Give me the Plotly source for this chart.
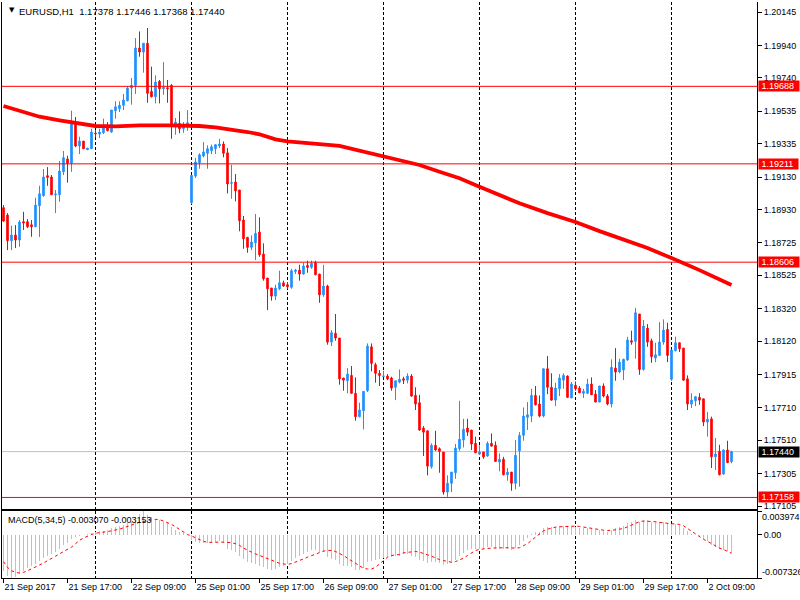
import plotly.graph_objects as go

# ---------------- data (EURUSD H1, bar 0 = 21 Sep 2017 01:00) ----------------
opens = [
 1.18941,1.18896,1.18738,1.18773,1.18742,1.18855,1.18855,1.18836,1.18824,1.18953,
 1.19015,1.19138,1.19130,1.19021,1.19021,1.19162,1.19241,1.19214,1.19466,1.19321,
 1.19351,1.19298,1.19304,1.19401,1.19394,1.19402,1.19444,1.19407,1.19538,1.19550,
 1.19571,1.19599,1.19677,1.19694,1.19924,1.19899,1.19953,1.19657,1.19624,1.19719,
 1.19673,1.19679,1.19694,1.19448,1.19460,1.19427,1.19439,1.18972,1.19136,1.19218,
 1.19259,1.19276,1.19292,1.19304,1.19321,1.19333,1.19279,1.19091,1.19099,1.19050,
 1.18865,1.18759,1.18697,1.18725,1.18791,1.18656,1.18508,1.18447,1.18397,1.18442,
 1.18479,1.18467,1.18451,1.18549,1.18557,1.18533,1.18586,1.18574,1.18602,1.18533,
 1.18405,1.18459,1.18114,1.18168,1.18139,1.17893,1.17876,1.17909,1.17799,1.17655,
 1.17692,1.17815,1.18085,1.17975,1.17922,1.17903,1.17905,1.17893,1.17836,1.17868,
 1.17888,1.17880,1.17905,1.17786,1.17741,1.17585,1.17568,1.17347,1.17479,1.17458,
 1.17437,1.17191,1.17245,1.17310,1.17458,1.17511,1.17585,1.17573,1.17491,1.17425,
 1.17437,1.17413,1.17491,1.17479,1.17376,1.17393,1.17298,1.17314,1.17245,1.17445,
 1.17540,1.17651,1.17659,1.17786,1.17733,1.17659,1.17950,1.17836,1.17757,1.17827,
 1.17880,1.17905,1.17770,1.17848,1.17831,1.17799,1.17799,1.17856,1.17794,1.17745,
 1.17844,1.17782,1.17733,1.17954,1.17930,1.17942,1.18004,1.18122,1.18119,1.18287,
 1.17946,1.18200,1.18122,1.18016,1.18032,1.18114,1.18192,1.17885,1.18061,1.18110,
 1.18077,1.17888,1.17733,1.17753,1.17774,1.17765,1.17622,1.17642,1.17408,1.17442,
 1.17302,1.17450,1.17378]
highs = [
 1.18957,1.18908,1.18830,1.18834,1.18865,1.18916,1.18871,1.18865,1.19002,1.19076,
 1.19179,1.19191,1.19142,1.19050,1.19228,1.19290,1.19261,1.19538,1.19499,1.19378,
 1.19351,1.19308,1.19427,1.19419,1.19427,1.19489,1.19468,1.19542,1.19596,1.19596,
 1.19641,1.19690,1.19739,1.19985,1.20026,1.19953,1.20047,1.19809,1.19756,1.19727,
 1.19837,1.19727,1.19702,1.19493,1.19534,1.19468,1.19542,1.19140,1.19247,1.19276,
 1.19345,1.19325,1.19329,1.19329,1.19365,1.19349,1.19308,1.19205,1.19148,1.19050,
 1.18890,1.18759,1.18771,1.18902,1.18882,1.18722,1.18508,1.18447,1.18467,1.18553,
 1.18492,1.18484,1.18565,1.18565,1.18590,1.18602,1.18615,1.18615,1.18615,1.18533,
 1.18590,1.18467,1.18188,1.18287,1.18139,1.17893,1.17954,1.17967,1.17897,1.17741,
 1.17811,1.18106,1.18106,1.17987,1.17942,1.17938,1.17917,1.17901,1.17876,1.17946,
 1.17901,1.17922,1.17917,1.17836,1.17790,1.17597,1.17568,1.17491,1.17568,1.17466,
 1.17437,1.17294,1.17314,1.17487,1.17753,1.17642,1.17642,1.17573,1.17532,1.17479,
 1.17437,1.17503,1.17552,1.17503,1.17429,1.17408,1.17339,1.17314,1.17511,1.17560,
 1.17712,1.17745,1.17827,1.17844,1.17786,1.17950,1.18028,1.17922,1.17864,1.17917,
 1.17922,1.17909,1.17868,1.17872,1.17844,1.17827,1.17888,1.17897,1.17819,1.17844,
 1.17860,1.17794,1.18008,1.18077,1.18012,1.18012,1.18147,1.18184,1.18324,1.18287,
 1.18250,1.18225,1.18135,1.18110,1.18237,1.18254,1.18233,1.18065,1.18147,1.18110,
 1.18077,1.17909,1.17799,1.17782,1.17799,1.17765,1.17684,1.17655,1.17524,1.17482,
 1.17454,1.17507,1.17446]
lows = [
 1.18855,1.18680,1.18680,1.18693,1.18701,1.18804,1.18816,1.18762,1.18822,1.18761,
 1.19009,1.19076,1.19019,1.18908,1.18978,1.19142,1.19095,1.19162,1.19313,1.19271,
 1.19304,1.19296,1.19304,1.19374,1.19370,1.19394,1.19411,1.19402,1.19489,1.19530,
 1.19542,1.19596,1.19575,1.19641,1.19870,1.19772,1.19587,1.19620,1.19583,1.19583,
 1.19636,1.19587,1.19365,1.19390,1.19399,1.19402,1.19415,1.18964,1.19124,1.19181,
 1.19251,1.19181,1.19271,1.19271,1.19308,1.19251,1.19029,1.18996,1.18980,1.18796,
 1.18688,1.18664,1.18680,1.18619,1.18639,1.18492,1.18311,1.18369,1.18373,1.18434,
 1.18455,1.18442,1.18442,1.18533,1.18492,1.18529,1.18541,1.18565,1.18525,1.18356,
 1.18393,1.18098,1.18090,1.18122,1.17852,1.17815,1.17799,1.17799,1.17630,1.17651,
 1.17577,1.17807,1.17934,1.17864,1.17844,1.17901,1.17880,1.17815,1.17757,1.17860,
 1.17856,1.17860,1.17778,1.17696,1.17568,1.17413,1.17294,1.17335,1.17445,1.17310,
 1.17175,1.17162,1.17191,1.17273,1.17445,1.17466,1.17536,1.17450,1.17433,1.17421,
 1.17396,1.17408,1.17470,1.17376,1.17319,1.17294,1.17261,1.17199,1.17208,1.17224,
 1.17507,1.17573,1.17622,1.17725,1.17651,1.17651,1.17794,1.17753,1.17720,1.17782,
 1.17827,1.17770,1.17770,1.17815,1.17802,1.17770,1.17794,1.17790,1.17745,1.17745,
 1.17774,1.17725,1.17712,1.17876,1.17922,1.17880,1.17999,1.18098,1.18012,1.17913,
 1.17938,1.18085,1.17987,1.17991,1.18028,1.18098,1.17991,1.17876,1.18057,1.18053,
 1.17876,1.17696,1.17708,1.17720,1.17728,1.17597,1.17532,1.17339,1.17327,1.17294,
 1.17298,1.17372,1.17368]
closes = [
 1.18859,1.18738,1.18773,1.18742,1.18853,1.18847,1.18824,1.18824,1.18957,1.19027,
 1.19130,1.19128,1.19021,1.19025,1.19167,1.19249,1.19214,1.19456,1.19321,1.19351,
 1.19304,1.19308,1.19407,1.19396,1.19407,1.19439,1.19415,1.19542,1.19562,1.19571,
 1.19604,1.19677,1.19694,1.19924,1.19899,1.19953,1.19645,1.19624,1.19714,1.19673,
 1.19682,1.19673,1.19448,1.19468,1.19427,1.19444,1.19464,1.19140,1.19222,1.19267,
 1.19284,1.19304,1.19316,1.19329,1.19333,1.19276,1.19087,1.19095,1.19045,1.18861,
 1.18750,1.18697,1.18730,1.18783,1.18652,1.18504,1.18442,1.18397,1.18447,1.18479,
 1.18459,1.18455,1.18553,1.18557,1.18533,1.18582,1.18574,1.18599,1.18529,1.18405,
 1.18459,1.18114,1.18172,1.18139,1.17888,1.17880,1.17917,1.17799,1.17655,1.17696,
 1.17811,1.18090,1.17983,1.17922,1.17909,1.17905,1.17888,1.17831,1.17876,1.17885,
 1.17880,1.17905,1.17782,1.17733,1.17573,1.17560,1.17351,1.17479,1.17450,1.17442,
 1.17191,1.17245,1.17314,1.17462,1.17516,1.17577,1.17560,1.17487,1.17433,1.17437,
 1.17408,1.17491,1.17474,1.17380,1.17393,1.17298,1.17314,1.17245,1.17417,1.17540,
 1.17659,1.17667,1.17786,1.17728,1.17659,1.17950,1.17836,1.17757,1.17831,1.17893,
 1.17909,1.17774,1.17856,1.17827,1.17802,1.17811,1.17856,1.17790,1.17745,1.17844,
 1.17782,1.17733,1.17959,1.17930,1.17991,1.18008,1.18127,1.18114,1.18295,1.17946,
 1.18213,1.18114,1.18024,1.18036,1.18114,1.18188,1.18032,1.18065,1.18110,1.18073,
 1.17880,1.17733,1.17757,1.17778,1.17757,1.17622,1.17639,1.17408,1.17425,1.17298,
 1.17450,1.17372,1.17440]
bars = list(range(len(opens)))

# moving average (read at selected bars)
ma_bars = [0,4,9,14,20,23,28,34,41,46,49,53,57,61,64,68,71,76,79,84,
           89,95,100,104,109,114,119,124,129,136,143,149,154,161,167,174,182]
ma_vals = [1.19567,1.19536,1.19501,1.19479,1.19452,1.19444,1.19442,1.19448,1.19448,1.19448,
           1.19444,1.19436,1.19423,1.19407,1.19393,1.19362,1.19349,1.19341,1.19333,1.19321,
           1.19292,1.19259,1.19230,1.19204,1.19162,1.19122,1.19070,1.19019,1.18968,1.18908,
           1.18853,1.18797,1.18754,1.18693,1.18631,1.18557,1.18465]

# MACD(5,34,5): main (histogram) and signal
macd_main = [
 -0.00610,-0.00700,-0.00733,-0.00710,-0.00670,-0.00610,-0.00570,-0.00536,-0.00496,-0.00450,
 -0.00399,-0.00353,-0.00325,-0.00296,-0.00239,-0.00182,-0.00143,-0.00068,-0.00040,-0.00023,
 -0.00011,0.00002,0.00029,0.00046,0.00057,0.00068,0.00074,0.00103,0.00125,0.00143,
 0.00160,0.00188,0.00205,0.00290,0.00350,0.00397,0.00330,0.00290,0.00262,0.00239,
 0.00217,0.00194,0.00125,0.00080,0.00046,0.00023,0.00011,-0.00097,-0.00125,-0.00137,
 -0.00137,-0.00137,-0.00125,-0.00125,-0.00114,-0.00125,-0.00239,-0.00268,-0.00296,-0.00353,
 -0.00410,-0.00456,-0.00479,-0.00496,-0.00524,-0.00553,-0.00581,-0.00593,-0.00581,-0.00553,
 -0.00524,-0.00496,-0.00439,-0.00399,-0.00365,-0.00325,-0.00296,-0.00268,-0.00268,-0.00296,
 -0.00296,-0.00382,-0.00410,-0.00428,-0.00496,-0.00524,-0.00524,-0.00553,-0.00593,-0.00593,
 -0.00570,-0.00467,-0.00439,-0.00428,-0.00410,-0.00399,-0.00382,-0.00382,-0.00365,-0.00353,
 -0.00325,-0.00325,-0.00353,-0.00382,-0.00422,-0.00439,-0.00479,-0.00467,-0.00467,-0.00479,
 -0.00513,-0.00502,-0.00479,-0.00422,-0.00365,-0.00308,-0.00268,-0.00251,-0.00239,-0.00239,
 -0.00239,-0.00217,-0.00211,-0.00228,-0.00239,-0.00251,-0.00251,-0.00268,-0.00228,-0.00182,
 -0.00114,-0.00057,0.00017,0.00046,0.00046,0.00114,0.00131,0.00125,0.00125,0.00137,
 0.00148,0.00131,0.00137,0.00131,0.00114,0.00103,0.00103,0.00091,0.00074,0.00074,
 0.00063,0.00046,0.00074,0.00103,0.00125,0.00148,0.00188,0.00205,0.00245,0.00217,
 0.00239,0.00239,0.00217,0.00205,0.00205,0.00217,0.00188,0.00171,0.00171,0.00160,
 0.00114,0.00057,0.00017,-0.00011,-0.00029,-0.00080,-0.00114,-0.00182,-0.00211,-0.00251,
 -0.00268,-0.00285,-0.003070]
macd_signal = [
 -0.00456,-0.00553,-0.00610,-0.00638,-0.00650,-0.00638,-0.00610,-0.00581,-0.00553,-0.00513,
 -0.00479,-0.00445,-0.00410,-0.00365,-0.00325,-0.00285,-0.00251,-0.00211,-0.00154,-0.00097,
 -0.00057,-0.00023,0.00000,0.00023,0.00029,0.00040,0.00051,0.00063,0.00074,0.00091,
 0.00114,0.00131,0.00160,0.00188,0.00205,0.00228,0.00239,0.00251,0.00257,0.00251,
 0.00228,0.00205,0.00171,0.00131,0.00091,0.00046,0.00000,-0.00023,-0.00057,-0.00086,
 -0.00114,-0.00131,-0.00137,-0.00131,-0.00125,-0.00125,-0.00131,-0.00137,-0.00154,-0.00182,
 -0.00228,-0.00268,-0.00296,-0.00325,-0.00353,-0.00382,-0.00410,-0.00439,-0.00467,-0.00485,
 -0.00496,-0.00502,-0.00490,-0.00467,-0.00439,-0.00410,-0.00382,-0.00353,-0.00325,-0.00296,
 -0.00279,-0.00268,-0.00268,-0.00285,-0.00314,-0.00353,-0.00399,-0.00439,-0.00479,-0.00524,
 -0.00570,-0.00581,-0.00581,-0.00553,-0.00496,-0.00439,-0.00382,-0.00353,-0.00342,-0.00336,
 -0.00308,-0.00296,-0.00285,-0.00285,-0.00296,-0.00314,-0.00342,-0.00365,-0.00399,-0.00422,
 -0.00439,-0.00456,-0.00467,-0.00456,-0.00433,-0.00399,-0.00353,-0.00308,-0.00268,-0.00251,
 -0.00239,-0.00234,-0.00228,-0.00222,-0.00222,-0.00222,-0.00222,-0.00228,-0.00228,-0.00222,
 -0.00194,-0.00154,-0.00097,-0.00040,0.00017,0.00063,0.00091,0.00114,0.00125,0.00131,
 0.00137,0.00143,0.00143,0.00143,0.00137,0.00125,0.00114,0.00108,0.00097,0.00086,
 0.00074,0.00068,0.00068,0.00080,0.00091,0.00103,0.00131,0.00160,0.00188,0.00217,
 0.00228,0.00228,0.00228,0.00217,0.00205,0.00200,0.00194,0.00188,0.00182,0.00171,
 0.00148,0.00103,0.00046,0.00000,-0.00040,-0.00080,-0.00114,-0.00154,-0.00194,-0.00228,
 -0.00251,-0.00285,-0.003153]

time_tick_bars = [0,16,32,48,64,80,96,112,128,144,160,176]
time_tick_text = ["21 Sep 2017","21 Sep 17:00","22 Sep 09:00","25 Sep 01:00","25 Sep 17:00",
                  "26 Sep 09:00","27 Sep 01:00","27 Sep 17:00","28 Sep 09:00","29 Sep 01:00",
                  "29 Sep 17:00","2 Oct 09:00"]
day_sep_bars = [23,47,71,95,119,143,167]

price_ticks = [1.20145,1.19940,1.19740,1.19535,1.19335,1.19130,1.18930,1.18725,
               1.18525,1.18320,1.18120,1.17915,1.17710,1.17510,1.17305,1.17105]
red_levels = [1.19688,1.19211,1.18606,1.17158]
bid_level = 1.17440
macd_max, macd_min = 0.003974, -0.007326

title_text = "EURUSD,H1\u00a0 1.17378 1.17446 1.17368 1.17440"
macd_text = "MACD(5,34,5) -0.003070 -0.003153"

# ---------------- figure ----------------
FONT = "Liberation Sans"
FS = 9
BLUE, RED, GREY = "#1E90FF", "#FF0000", "#C0C0C0"

fig = go.Figure()
fig.add_trace(go.Candlestick(
    x=bars, open=opens, high=highs, low=lows, close=closes,
    increasing=dict(line=dict(color=BLUE, width=1), fillcolor=BLUE),
    decreasing=dict(line=dict(color=RED, width=1), fillcolor=RED),
    whiskerwidth=0, hoverinfo="skip", xaxis="x", yaxis="y"))
fig.add_trace(go.Scatter(x=ma_bars, y=ma_vals, mode="lines",
                         line=dict(color=RED, width=3.8), hoverinfo="skip",
                         xaxis="x", yaxis="y"))
fig.add_trace(go.Bar(x=bars, y=macd_main, width=0.25,
                     marker=dict(color=GREY, line=dict(width=0)),
                     hoverinfo="skip", xaxis="x2", yaxis="y2"))
fig.add_trace(go.Scatter(x=bars, y=macd_signal, mode="lines",
                         line=dict(color=RED, width=1, dash="dot"),
                         hoverinfo="skip", xaxis="x2", yaxis="y2"))

xrange = [-0.375, 188.375]
minor_grid = dict(tickvals=day_sep_bars, showgrid=True, gridcolor="black",
                  griddash="3px,2px", gridwidth=1, ticks="")

shapes = []
for v in red_levels:
    shapes.append(dict(type="line", xref="x domain", yref="y", x0=0, x1=1, y0=v, y1=v,
                       line=dict(color=RED, width=1), layer="above"))
shapes.append(dict(type="line", xref="x domain", yref="y", x0=0, x1=1, y0=bid_level, y1=bid_level,
                   line=dict(color=GREY, width=1), layer="below"))

annotations = []
for v in red_levels:
    annotations.append(dict(x=1, xref="paper", y=v, yref="y", text="\u00a0" + f"{v:.5f}" + "\u00a0\u00a0",
                            showarrow=False, xanchor="left", xshift=1, borderpad=0,
                            bgcolor=RED, font=dict(color="white", size=FS, family=FONT)))
annotations.append(dict(x=1, xref="paper", y=bid_level, yref="y", text="\u00a0" + f"{bid_level:.5f}" + "\u00a0\u00a0",
                        showarrow=False, xanchor="left", xshift=1, borderpad=0,
                        bgcolor="black", font=dict(color="white", size=FS, family=FONT)))
annotations.append(dict(x=1, xref="paper", y=1, yref="y2 domain", text=f"{macd_max:.6f}",
                        showarrow=False, xanchor="left", yanchor="top", xshift=4, borderpad=0,
                        font=dict(color="black", size=FS, family=FONT)))
annotations.append(dict(x=1, xref="paper", y=0, yref="y2 domain", text=f"{macd_min:.6f}",
                        showarrow=False, xanchor="left", yanchor="bottom", xshift=4, borderpad=0,
                        font=dict(color="black", size=FS, family=FONT)))
annotations.append(dict(x=0, xref="paper", y=1, yref="paper", text="\u25BC",
                        showarrow=False, xanchor="left", yanchor="top", xshift=6, yshift=-3,
                        borderpad=0, font=dict(color="black", size=7, family="DejaVu Sans")))
annotations.append(dict(x=0, xref="paper", y=1, yref="paper", text=title_text,
                        showarrow=False, xanchor="left", yanchor="top", xshift=16, yshift=-3,
                        borderpad=0, font=dict(color="black", size=9.5, family=FONT)))
annotations.append(dict(x=0, xref="paper", y=1, yref="y2 domain", text=macd_text,
                        showarrow=False, xanchor="left", yanchor="top", xshift=5, yshift=-3,
                        borderpad=0, font=dict(color="black", size=FS, family=FONT)))

fig.update_layout(
    width=800, height=600,
    margin=dict(l=2, r=43, t=2, b=22, pad=0),
    paper_bgcolor="white", plot_bgcolor="white",
    font=dict(family=FONT, size=FS, color="black"),
    showlegend=False, boxgap=0.45, bargap=0,
    hovermode=False,
    xaxis=dict(domain=[0, 1], anchor="y", range=xrange, showticklabels=False, ticks="",
               showgrid=False, zeroline=False, showline=True, linecolor="black", linewidth=1,
               mirror=False, minor=minor_grid, rangeslider=dict(visible=False), fixedrange=True),
    yaxis=dict(domain=[0.1198, 1], anchor="x", side="right", range=[1.17087, 1.20207],
               tickmode="array", tickvals=price_ticks, ticktext=[f"{v:.5f}" for v in price_ticks],
               ticks="outside", ticklen=4, tickcolor="black", showgrid=False, zeroline=False,
               showline=True, linecolor="black", linewidth=1, mirror=True),
    xaxis2=dict(domain=[0, 1], anchor="y2", matches="x", range=xrange,
                tickmode="array", tickvals=time_tick_bars, ticktext=time_tick_text,
                ticks="outside", ticklen=4, tickcolor="black", ticklabelposition="outside right",
                tickangle=0,
                showgrid=False, zeroline=False, showline=True, linecolor="black", linewidth=1,
                mirror=True, minor=minor_grid),
    yaxis2=dict(domain=[0, 0.1163], anchor="x2", side="right", range=[macd_min, macd_max],
                tickmode="array", tickvals=[macd_max, 0, macd_min], ticktext=["", "0.00", ""],
                ticks="outside", ticklen=4, tickcolor="black", showgrid=False, zeroline=False,
                showline=True, linecolor="black", linewidth=1, mirror=True),
    shapes=shapes, annotations=annotations,
)

fig.write_html("out.html", config={"displayModeBar": False, "staticPlot": True},
               post_script="document.body.style.margin='0';document.body.style.padding='0';")
